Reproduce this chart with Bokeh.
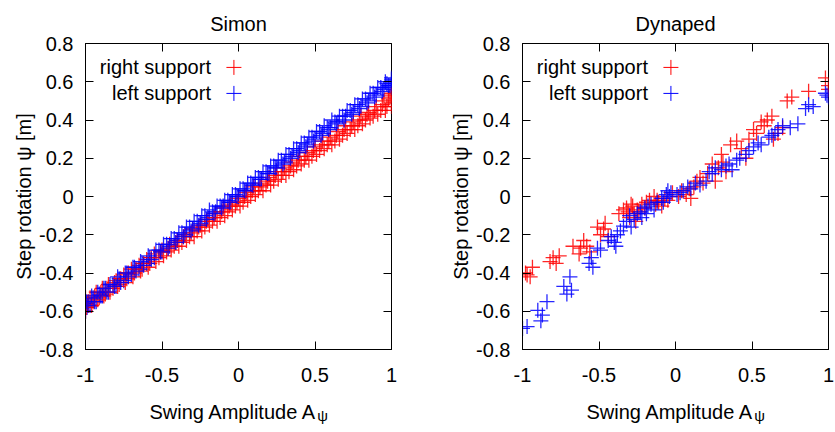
from bokeh.plotting import figure
from bokeh.models import Range1d, FixedTicker, LinearAxis, Label
from bokeh.layouts import row, column
from bokeh.embed import file_html
from bokeh.resources import INLINE

FONT = "Liberation Sans"

# ---------------- data ----------------
titles = ["Simon", "Dynaped"]
series_names = ["right support", "left support"]
series_colors = ["#ff0000", "#0000ff"]
x_label_main = "Swing Amplitude A"
x_label_sub = "\u03c8"
y_label = "Step rotation \u03c8 [m]"

x_ticks = [-1, -0.5, 0, 0.5, 1]
x_tick_labels = ["-1", "-0.5", "0", "0.5", "1"]
y_ticks = [-0.8, -0.6, -0.4, -0.2, 0, 0.2, 0.4, 0.6, 0.8]
y_tick_labels = ["-0.8", "-0.6", "-0.4", "-0.2", "0", "0.2", "0.4", "0.6", "0.8"]

# Simon, first pass of samples
simon_x = [-1.0, -1.0, -0.99, -0.98, -0.97, -0.95, -0.93, -0.91, -0.89, -0.87, -0.85, -0.82,
           -0.80, -0.78, -0.75, -0.73, -0.70, -0.68, -0.65, -0.63, -0.60, -0.58, -0.55, -0.52,
           -0.50, -0.47, -0.45, -0.42, -0.40, -0.37, -0.35, -0.32, -0.30, -0.27, -0.25, -0.22,
           -0.20, -0.17, -0.15, -0.12, -0.10, -0.07, -0.05, -0.02, 0.0, 0.03, 0.05, 0.08,
           0.10, 0.13, 0.15, 0.18, 0.20, 0.23, 0.25, 0.28, 0.30, 0.33, 0.35, 0.38,
           0.40, 0.43, 0.45, 0.48, 0.50, 0.53, 0.55, 0.58, 0.60, 0.63, 0.65, 0.68,
           0.70, 0.73, 0.75, 0.78, 0.80, 0.83, 0.85, 0.88, 0.90, 0.93, 0.95, 0.97,
           0.99, 1.0, 1.0]
simon_right_y = [-0.53, -0.60, -0.56, -0.57, -0.53, -0.55, -0.50, -0.53, -0.48, -0.51, -0.46, -0.48,
                 -0.44, -0.46, -0.41, -0.43, -0.38, -0.40, -0.36, -0.38, -0.33, -0.35, -0.30, -0.32,
                 -0.28, -0.29, -0.25, -0.26, -0.23, -0.24, -0.20, -0.21, -0.17, -0.18, -0.15, -0.16,
                 -0.12, -0.13, -0.09, -0.11, -0.06, -0.08, -0.04, -0.05, -0.01, -0.03, 0.02, 0.00,
                 0.05, 0.03, 0.07, 0.06, 0.10, 0.08, 0.13, 0.11, 0.15, 0.13, 0.18, 0.16,
                 0.21, 0.19, 0.23, 0.21, 0.26, 0.24, 0.29, 0.27, 0.31, 0.29, 0.34, 0.32,
                 0.37, 0.35, 0.39, 0.37, 0.42, 0.40, 0.44, 0.42, 0.47, 0.45, 0.50, 0.47,
                 0.52, 0.54, 0.49]
simon_left_y = [-0.56, -0.60, -0.58, -0.55, -0.57, -0.53, -0.55, -0.51, -0.52, -0.48, -0.50, -0.46,
                -0.47, -0.43, -0.44, -0.40, -0.41, -0.37, -0.38, -0.35, -0.35, -0.32, -0.32, -0.28,
                -0.29, -0.25, -0.26, -0.22, -0.23, -0.19, -0.20, -0.16, -0.17, -0.13, -0.14, -0.10,
                -0.11, -0.08, -0.08, -0.05, -0.05, -0.02, -0.03, 0.01, 0.00, 0.04, 0.03, 0.07,
                0.06, 0.10, 0.09, 0.13, 0.12, 0.16, 0.15, 0.19, 0.18, 0.22, 0.21, 0.25,
                0.24, 0.28, 0.27, 0.31, 0.30, 0.34, 0.33, 0.36, 0.36, 0.39, 0.39, 0.42,
                0.42, 0.45, 0.44, 0.48, 0.47, 0.51, 0.50, 0.54, 0.53, 0.57, 0.56, 0.59,
                0.58, 0.61, 0.57]

# Simon, second pass of samples
simon_x2 = [-0.995, -0.985, -0.96, -0.94, -0.92, -0.90, -0.88, -0.86, -0.84, -0.81, -0.79, -0.77,
            -0.74, -0.72, -0.69, -0.67, -0.64, -0.62, -0.59, -0.57, -0.54, -0.51, -0.49, -0.46,
            -0.44, -0.41, -0.39, -0.36, -0.34, -0.31, -0.29, -0.26, -0.24, -0.21, -0.19, -0.16,
            -0.14, -0.11, -0.09, -0.06, -0.04, -0.01, 0.01, 0.04, 0.06, 0.09, 0.11, 0.14,
            0.16, 0.19, 0.21, 0.24, 0.26, 0.29, 0.31, 0.34, 0.36, 0.39, 0.41, 0.44,
            0.46, 0.49, 0.51, 0.54, 0.56, 0.59, 0.61, 0.64, 0.66, 0.69, 0.71, 0.74,
            0.76, 0.79, 0.81, 0.84, 0.86, 0.89, 0.91, 0.94, 0.96, 0.98, 1.0, 1.0]
simon_right_y2 = [-0.58, -0.55, -0.57, -0.52, -0.54, -0.50, -0.52, -0.48, -0.50, -0.45, -0.47, -0.43,
                  -0.45, -0.40, -0.42, -0.38, -0.39, -0.35, -0.37, -0.32, -0.34, -0.29, -0.31, -0.27,
                  -0.28, -0.24, -0.26, -0.21, -0.23, -0.19, -0.21, -0.16, -0.18, -0.13, -0.15, -0.11,
                  -0.13, -0.08, -0.10, -0.05, -0.07, -0.03, -0.05, 0.00, -0.02, 0.03, 0.01, 0.05,
                  0.03, 0.08, 0.06, 0.11, 0.09, 0.13, 0.11, 0.16, 0.14, 0.19, 0.17, 0.21,
                  0.19, 0.24, 0.22, 0.27, 0.25, 0.29, 0.27, 0.32, 0.30, 0.35, 0.33, 0.37,
                  0.35, 0.40, 0.38, 0.43, 0.41, 0.45, 0.43, 0.48, 0.45, 0.51, 0.53, 0.47]
simon_left_y2 = [-0.55, -0.57, -0.52, -0.55, -0.50, -0.52, -0.48, -0.50, -0.46, -0.47, -0.42, -0.45,
                 -0.40, -0.42, -0.37, -0.39, -0.34, -0.36, -0.31, -0.33, -0.28, -0.29, -0.25, -0.27,
                 -0.22, -0.24, -0.19, -0.21, -0.16, -0.18, -0.13, -0.15, -0.10, -0.12, -0.07, -0.09,
                 -0.05, -0.06, -0.02, -0.03, 0.01, 0.00, 0.04, 0.03, 0.07, 0.06, 0.10, 0.09,
                 0.13, 0.12, 0.16, 0.15, 0.19, 0.17, 0.22, 0.20, 0.25, 0.23, 0.28, 0.26,
                 0.31, 0.29, 0.34, 0.32, 0.37, 0.35, 0.40, 0.38, 0.42, 0.40, 0.45, 0.43,
                 0.48, 0.46, 0.51, 0.49, 0.54, 0.52, 0.57, 0.55, 0.60, 0.58, 0.62, 0.59]

dyn_right_x = [-0.97, -0.935, -0.95, -0.98, -0.80, -0.78, -0.82, -0.76, -0.67, -0.60, -0.62, -0.63,
               -0.51, -0.46, -0.47, -0.49, -0.44, -0.37, -0.34, -0.31, -0.28, -0.27, -0.26, -0.30,
               -0.17, -0.14, -0.11, -0.09, -0.05, -0.20, 0.04, 0.07, 0.10, 0.14, 0.18, 0.12,
               0.24, 0.26, 0.30, 0.33, 0.36, 0.40, 0.46, 0.51, 0.56, 0.58, 0.63, 0.64,
               0.67, 0.76, 0.73, 0.87, 0.98, 1.0, 1.0,
               -0.32, -0.24, -0.22, -0.13, -0.07, -0.02, 0.02, 0.09, 0.16, 0.21, 0.28, 0.31,
               0.43, 0.48, 0.53, 0.60, 0.70, -0.29, -0.25, -0.19, -0.12, -0.58, -0.56]
dyn_right_y = [-0.41, -0.37, -0.42, -0.40, -0.32, -0.35, -0.34, -0.31, -0.26, -0.23, -0.27, -0.30,
               -0.16, -0.14, -0.17, -0.20, -0.21, -0.09, -0.07, -0.08, -0.05, -0.09, -0.13, -0.11,
               -0.02, 0.00, -0.03, -0.05, -0.02, -0.06, 0.03, 0.01, -0.01, 0.08, 0.07, 0.05,
               0.17, 0.08, 0.22, 0.13, 0.27, 0.29, 0.20, 0.35, 0.39, 0.37, 0.42, 0.30,
               0.33, 0.52, 0.50, 0.55, 0.62, 0.58, 0.56,
               -0.06, -0.08, -0.04, -0.04, -0.01, 0.02, 0.00, 0.04, 0.10, 0.12, 0.15, 0.18,
               0.25, 0.30, 0.33, 0.40, 0.36, -0.04, -0.07, -0.03, -0.02, -0.26, -0.29]
dyn_left_x = [-1.0, -0.97, -0.90, -0.88, -0.87, -0.84, -0.73, -0.71, -0.69, -0.68, -0.565, -0.54,
              -0.55, -0.51, -0.49, -0.42, -0.40, -0.39, -0.36, -0.34, -0.29, -0.27, -0.25, -0.22,
              -0.20, -0.18, -0.14, -0.09, -0.06, -0.03, 0.01, 0.05, 0.10, 0.16, 0.20, 0.24,
              0.26, 0.35, 0.37, 0.42, 0.46, 0.48, 0.51, 0.54, 0.61, 0.65, 0.67, 0.70,
              0.80, 0.85, 0.87, 0.99, 1.0, 0.98,
              -0.32, -0.30, -0.23, -0.16, -0.12, -0.05, -0.04, 0.03, 0.08, 0.13, 0.22, 0.30,
              0.33, 0.40, 0.56, 0.63, 0.75, 0.90, -0.44, -0.38, -0.19, -0.08]
dyn_left_y = [-0.69, -0.68, -0.595, -0.65, -0.62, -0.55, -0.47, -0.51, -0.42, -0.49, -0.35, -0.37,
              -0.32, -0.27, -0.28, -0.21, -0.24, -0.26, -0.18, -0.155, -0.16, -0.12, -0.09, -0.11,
              -0.06, -0.05, -0.07, -0.01, 0.01, 0.02, 0.01, 0.03, 0.04, 0.06, 0.08, 0.12,
              0.15, 0.17, 0.14, 0.20, 0.22, 0.24, 0.26, 0.28, 0.31, 0.33, 0.35, 0.37,
              0.38, 0.46, 0.48, 0.53, 0.52, 0.54,
              -0.13, -0.10, -0.08, -0.04, -0.03, 0.03, 0.00, 0.02, 0.05, 0.07, 0.13, 0.14,
              0.16, 0.19, 0.27, 0.32, 0.36, 0.47, -0.23, -0.20, -0.09, -0.03]

# key layout (in axis units of each panel)
LEG_TEXT_X = -0.18
LEG_MARK_X = -0.03
LEG_ROW_Y = [0.675, 0.539]

MAIN_H = 390      # height of each plotting figure
LABEL_H = 40      # height of the strip holding the x-axis title
XLAB_END = 0.515  # where "Swing Amplitude A" ends, in x-axis units
XLAB_BASE = 18.5  # baseline of the x-axis title inside the strip
XSUB_BASE = 15.0  # baseline of the subscript


def make_panel(title, right_sets, left_sets, width, border_left, border_right):
    p = figure(width=width, height=MAIN_H,
               x_range=Range1d(-1, 1), y_range=Range1d(-0.8, 0.8),
               output_backend="svg", toolbar_location=None,
               min_border_left=border_left, min_border_right=border_right,
               min_border_top=43, min_border_bottom=41)
    p.background_fill_color = "white"
    p.border_fill_color = "white"
    p.outline_line_color = "black"
    p.outline_line_alpha = 1
    p.outline_line_width = 1
    p.xgrid.grid_line_color = None
    p.ygrid.grid_line_color = None

    p.title.text = title
    p.title.align = "center"
    p.title.text_font = FONT
    p.title.text_font_size = "20px"
    p.title.text_font_style = "normal"
    p.title.text_color = "black"
    p.title.standoff = 17

    xa = p.xaxis[0]
    xa.ticker = FixedTicker(ticks=x_ticks)
    xa.major_label_overrides = dict(zip(x_ticks, x_tick_labels))
    ya = p.yaxis[0]
    ya.ticker = FixedTicker(ticks=y_ticks)
    ya.major_label_overrides = dict(zip(y_ticks, y_tick_labels))
    for ax in (xa, ya):
        ax.major_tick_in = 8
        ax.major_tick_out = 0
        ax.minor_tick_line_color = None
        ax.major_tick_line_color = "black"
        ax.axis_line_color = "black"
        ax.major_label_text_font = FONT
        ax.major_label_text_font_size = "20px"
        ax.major_label_text_color = "black"
    xa.major_label_standoff = 18
    ya.major_label_standoff = 12
    ya.axis_label = y_label
    ya.axis_label_text_font = FONT
    ya.axis_label_text_font_size = "20px"
    ya.axis_label_text_font_style = "normal"
    ya.axis_label_text_color = "black"
    ya.axis_label_standoff = 1

    # mirrored ticks on top and right, without labels
    for side, ticks in (("above", x_ticks), ("right", y_ticks)):
        ax = LinearAxis(ticker=FixedTicker(ticks=ticks),
                        major_label_overrides={t: "" for t in ticks},
                        major_label_standoff=0,
                        axis_line_color=None, major_tick_in=8, major_tick_out=0,
                        minor_tick_line_color=None, major_tick_line_color="black")
        p.add_layout(ax, side)

    for (rs, ls) in zip(right_sets, left_sets):
        for (xs, ys), col in zip((rs, ls), series_colors):
            p.scatter(xs, ys, marker="cross", size=15, line_color=col,
                      line_alpha=0.85, line_width=1.3)

    # key: text right-aligned, sample to its right
    for name, col, ly in zip(series_names, series_colors, LEG_ROW_Y):
        p.add_layout(Label(x=LEG_TEXT_X, y=ly, text=name, text_align="right",
                           text_baseline="middle", text_font=FONT,
                           text_font_size="20px", text_color="black"))
    p.scatter([LEG_MARK_X] * len(LEG_ROW_Y), LEG_ROW_Y, marker="cross", size=15,
              line_color=series_colors, line_width=1)

    # strip below the plot carrying the x-axis title "Swing Amplitude A" + subscript psi
    s = figure(width=width, height=LABEL_H,
               x_range=p.x_range, y_range=Range1d(0, LABEL_H),
               output_backend="svg", toolbar_location=None,
               x_axis_type=None, y_axis_type=None,
               min_border_left=border_left, min_border_right=border_right,
               min_border_top=0, min_border_bottom=0)
    s.outline_line_color = None
    s.xgrid.grid_line_color = None
    s.ygrid.grid_line_color = None
    s.background_fill_color = "white"
    s.border_fill_color = "white"
    s.add_layout(Label(x=XLAB_END, y=XLAB_BASE, text=x_label_main, text_align="right",
                       text_baseline="alphabetic", text_font=FONT,
                       text_font_size="20px", text_color="black"))
    s.add_layout(Label(x=XLAB_END, y=XSUB_BASE, text=x_label_sub, text_align="left",
                       text_baseline="alphabetic", text_font=FONT,
                       text_font_size="15px", text_color="black"))
    return column(p, s, spacing=0)


c1 = make_panel(titles[0],
                [(simon_x, simon_right_y), (simon_x2, simon_right_y2)],
                [(simon_x, simon_left_y), (simon_x2, simon_left_y2)],
                441, 85, 50)
c2 = make_panel(titles[1],
                [(dyn_right_x, dyn_right_y)],
                [(dyn_left_x, dyn_left_y)],
                394, 81, 7)

layout = row(c1, c2, spacing=0)
open("out.html", "w").write(file_html(layout, INLINE))
